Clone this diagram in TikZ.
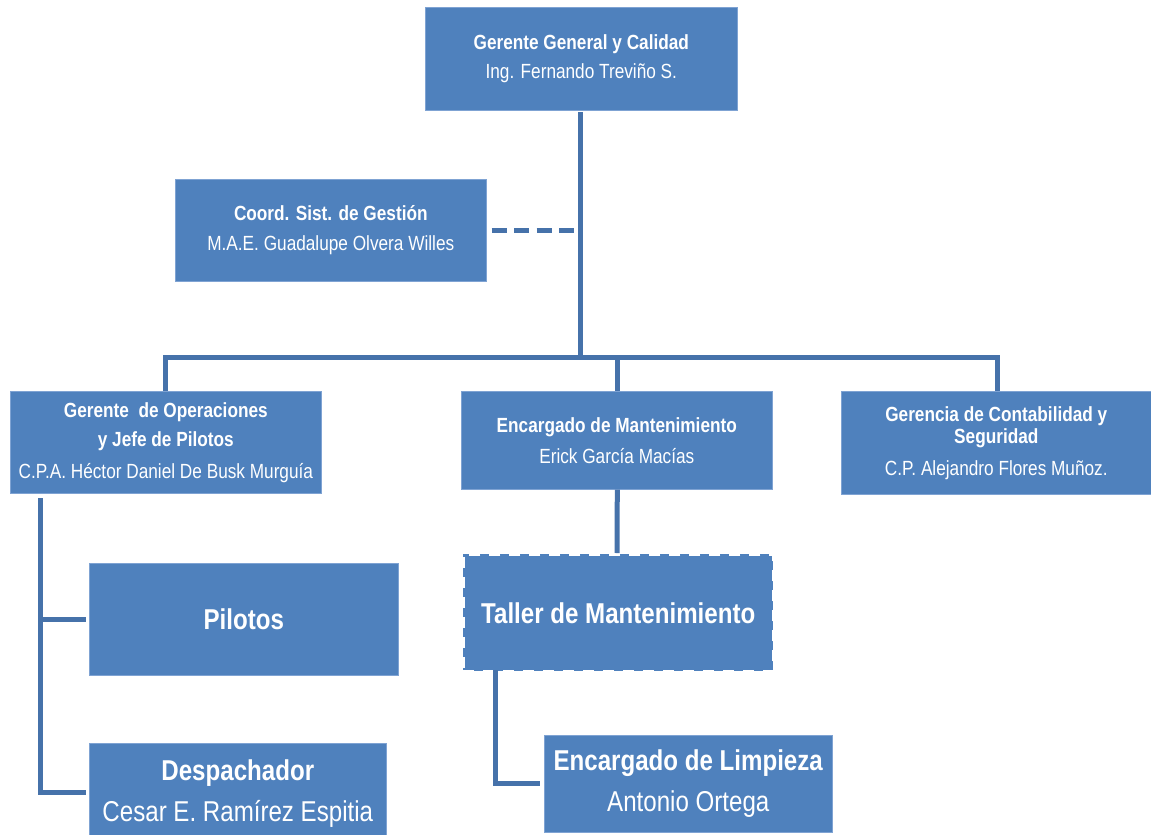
\documentclass[tikz,border=0pt]{standalone}
\usepackage{fontspec}
\setmainfont{Liberation Sans}[FakeStretch=0.84]
\newcommand{\fa}{\fontsize{20.5}{24}\selectfont}
\newcommand{\fb}{\fontsize{28.7}{33}\selectfont}
\begin{document}
\begin{tikzpicture}[x=1pt,y=-1pt,
  box/.style={fill=boxblue, draw=boxedge, line width=0.6pt, text=white, align=center, inner sep=0pt, anchor=north west, font=\fa},
  bigbox/.style={box, font=\fb},
  conn/.style={draw=lineblue, line width=5pt}]
\definecolor{boxblue}{HTML}{4F81BD}
\definecolor{boxedge}{HTML}{7FA3D3}
\definecolor{lineblue}{HTML}{4672AA}
\useasboundingbox (0,0) rectangle (1151,835);
% boxes
\node[box, minimum width=312pt, minimum height=103pt] (top) at (425,7)
  {\textbf{Gerente General y Calidad}\\[5pt]Ing. Fernando Treviño S.};
\node[box, minimum width=311pt, minimum height=102pt] (coord) at (175,179)
  {\textbf{Coord. Sist. de Gestión}\\[6pt]M.A.E. Guadalupe Olvera Willes};
\node[box, minimum width=311pt, minimum height=102pt] (gop) at (10,391)
  {\textbf{Gerente\ \ de Operaciones}\\[5pt]\textbf{y Jefe de Pilotos}\\[8pt]C.P.A. Héctor Daniel De Busk Murguía};
\node[box, minimum width=311pt, minimum height=98pt] (mant) at (461,391)
  {\textbf{Encargado de Mantenimiento}\\[7pt]Erick García Macías};
\node[box, minimum width=310pt, minimum height=103pt] (cont) at (841,391)
  {\textbf{Gerencia de Contabilidad y}\\[-2pt]\textbf{Seguridad}\\[8pt]C.P. Alejandro Flores Muñoz.};
\node[bigbox, draw=white, line width=2.5pt, dash pattern=on 11pt off 9pt, minimum width=310pt, minimum height=117pt] (tal) at (462,553)
  {\textbf{Taller de Mantenimiento}};
\node[bigbox, minimum width=309pt, minimum height=112pt] (pil) at (89,563)
  {\textbf{Pilotos}};
\node[bigbox, minimum width=297pt, minimum height=101pt] (desp) at (89,743)
  {\textbf{Despachador}\\[8pt]Cesar E. Ramírez Espitia};
\node[bigbox, minimum width=288pt, minimum height=97pt] (limp) at (544,735)
  {\textbf{Encargado de Limpieza}\\[8pt]Antonio Ortega};
% connection points
\coordinate (trunk) at (580,112);
\coordinate (bus) at (580,357);
\coordinate (lt) at (40,500);
\coordinate (lv) at (495,670);
% connectors
\draw[conn] (trunk) -- (bus);
\draw[conn, dash pattern=on 15pt off 7.5pt] (coord.east) ++(5,0) -- (trunk |- coord.east);
\draw[conn] (gop.north -| 165,0) |- (bus) -| (cont.north -| 997,0);
\draw[conn] (bus -| mant.north) ++(0.5,0) -- ++(0,34);
\draw[conn] (mant.south) ++(0.5,0) -- (tal.north -| 617,0);
\draw[conn, line cap=rect] (lt) |- ([xshift=-6pt]pil.west);
\draw[conn, line cap=rect] (lt) |- (83,792);
\draw[conn] (lv) |- ([xshift=-4pt]limp.west);
\end{tikzpicture}
\end{document}
